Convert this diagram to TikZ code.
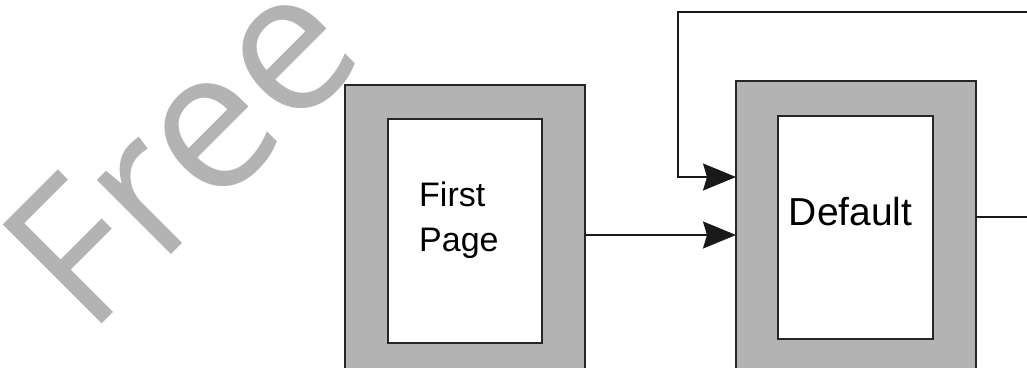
\documentclass[tikz,border=0pt]{standalone}
\usepackage{fontspec}
\setmainfont{Liberation Sans}
\newfontfamily\wmfont{Open Sans}
\usetikzlibrary{arrows.meta}
\definecolor{boxgray}{RGB}{179,179,179}
\definecolor{wmgray}{RGB}{179,179,179}
\tikzset{
  outerbox/.style={draw=black!85, line width=1.5pt, fill=boxgray, anchor=north west, inner sep=0pt, outer sep=0pt},
  innerbox/.style={draw=black!85, line width=1.8pt, fill=white, anchor=north west, inner sep=0pt, outer sep=0pt},
  conn/.style={draw=black!90, line width=1.8pt},
  arr/.style={conn, -{Stealth[length=33pt, width=27pt, inset=4pt]}},
  lbl/.style={inner sep=0pt, anchor=base west, align=left}
}
\begin{document}
\begin{tikzpicture}[x=1pt, y=-1pt]
\useasboundingbox (0,0) rectangle (1027,367);
\clip (0,0) rectangle (1027,367);
% watermark
\node[text=wmgray, font=\wmfont\fontsize{196}{196}\selectfont, rotate=45, anchor=base west, inner sep=0pt] (wm) at (88,338) {Free};
% boxes
\node[outerbox, minimum width=240pt, minimum height=300pt] (first) at (345,85) {};
\node[innerbox, minimum width=154pt, minimum height=224pt] (firstin) at (388,119) {};
\node[lbl, font=\fontsize{34}{45}\selectfont] (firstlbl) at (419,251.7) {First\\Page};
\node[outerbox, minimum width=240pt, minimum height=304pt] (def) at (736,81) {};
\node[innerbox, minimum width=155pt, minimum height=223pt] (defin) at (778,116) {};
\node[lbl, font=\fontsize{39}{45}\selectfont] (deflbl) at (788.7,225) {Default};
% connectors
\coordinate (outR) at (1027,217);
\coordinate (topR) at (1027,12.3);
\coordinate (topL) at (678,12.3);
\coordinate (midL) at (678,177);
\draw[arr] (first.east |- 0,235) -- (def.west |- 0,235);
\draw[arr] (topR) -- (topL) -- (midL) -- (def.west |- midL);
\draw[conn] (def.east |- outR) -- (outR);
\end{tikzpicture}
\end{document}
